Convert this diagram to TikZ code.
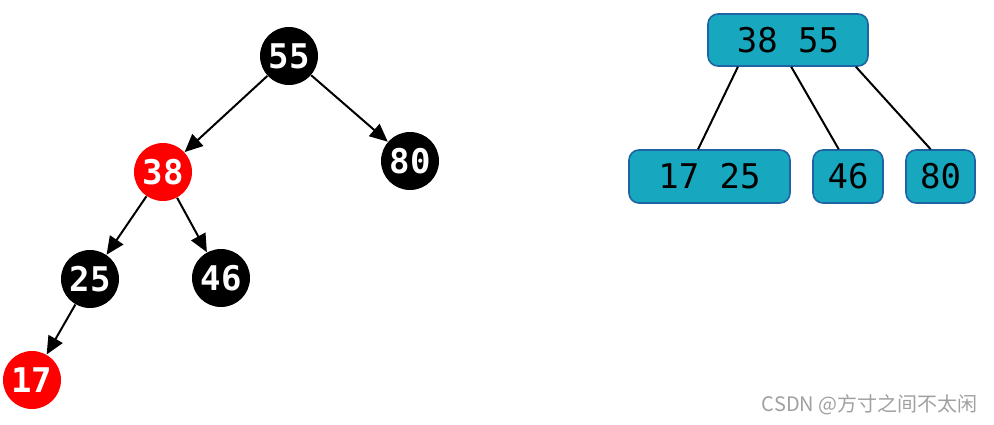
\documentclass[tikz,border=0pt]{standalone}
\usepackage{fontspec}
\newfontfamily\monofont{DejaVu Sans Mono}
\newfontfamily\cjkfont{Noto Sans CJK SC}
\usetikzlibrary{calc,arrows.meta}

\definecolor{rbred}{RGB}{255,0,0}
\definecolor{btfill}{RGB}{23,168,192}
\definecolor{btline}{RGB}{30,100,165}
\definecolor{wmgray}{RGB}{160,160,160}

\begin{document}
\begin{tikzpicture}[x=0.5pt, y=-0.5pt,
  rbnode/.style={circle, fill=black, text=white, minimum size=29pt, inner sep=0pt,
    font=\monofont\bfseries\fontsize{17}{17}\selectfont},
  rbedge/.style={line width=1pt, -{Triangle[length=9pt, width=8pt]}},
  btnode/.style={draw=btline, fill=btfill, line width=0.8pt, rounded corners=5pt,
    minimum height=26.5pt, inner sep=0pt, font=\monofont\fontsize{17}{17}\selectfont},
  btedge/.style={line width=1pt}]

\useasboundingbox (0,0) rectangle (994,424);

% Red-black tree (left)
\node[rbnode] (n55) at (289,56) {55};
\node[rbnode, fill=rbred] (n38) at (163,172) {38};
\node[rbnode] (n80) at (410,161) {80};
\node[rbnode] (n25) at (90,279) {25};
\node[rbnode] (n46) at (221,278) {46};
\node[rbnode, fill=rbred] (n17) at (32,380) {17};

\draw[rbedge] (n55) -- (n38);
\draw[rbedge] (n55) -- (n80);
\draw[rbedge] (n38) -- (n25);
\draw[rbedge] (n38) -- (n46);
\draw[rbedge] (n25) -- (n17);

% 2-3 tree (right)
\node[btnode, minimum width=80pt, minimum height=26pt] (b3855) at (788,40) {38 55};
\node[btnode, minimum width=80.5pt] (b1725) at (709.5,176.5) {17 25};
\node[btnode, minimum width=35pt] (b46) at (848,176.5) {46};
\node[btnode, minimum width=34.5pt] (b80) at (940.5,176.5) {80};

\draw[btedge] ($(b3855.south west)!0.19!(b3855.south east)$) -- ($(b1725.north west)!0.43!(b1725.north east)$);
\draw[btedge] ($(b3855.south west)!0.52!(b3855.south east)$) -- ($(b46.north west)!0.37!(b46.north east)$);
\draw[btedge] ($(b3855.south west)!0.92!(b3855.south east)$) -- ($(b80.north west)!0.36!(b80.north east)$);

% Watermark
\node[wmgray, anchor=east, inner sep=0pt, font=\cjkfont\fontsize{10}{10}\selectfont] (wm) at (978,405) {CSDN @方寸之间不太闲};

\end{tikzpicture}
\end{document}
